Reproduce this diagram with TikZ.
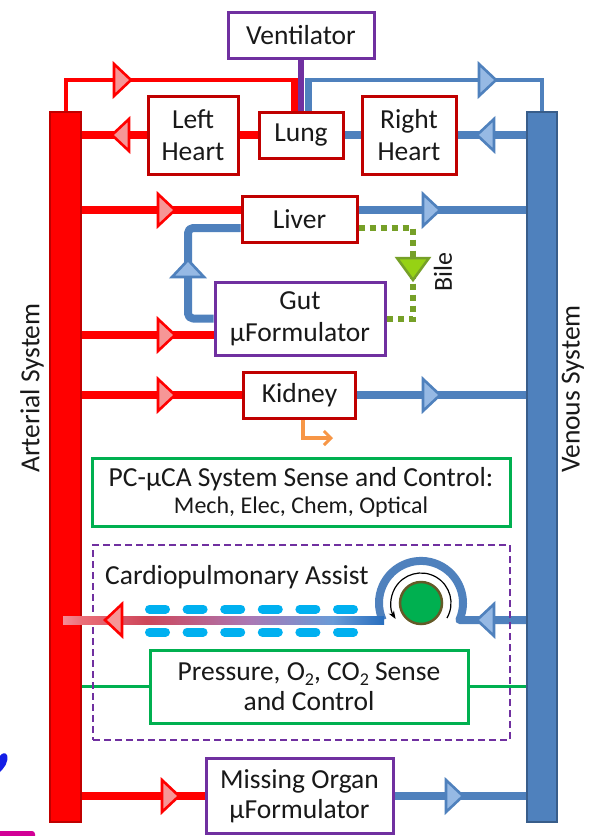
\documentclass[tikz,border=0pt]{standalone}
\usepackage{fontspec}
\setmainfont{Carlito}
\usetikzlibrary{arrows.meta}
\definecolor{artred}{RGB}{255,0,0}
\definecolor{boxred}{RGB}{192,0,0}
\definecolor{venblue}{RGB}{79,129,189}
\definecolor{venedge}{RGB}{56,93,138}
\definecolor{pinkfill}{RGB}{246,150,150}
\definecolor{lbluefill}{RGB}{150,185,228}
\definecolor{purp}{RGB}{112,48,160}
\definecolor{grn}{RGB}{0,176,80}
\definecolor{bilegrn}{RGB}{118,160,40}
\definecolor{bilefill}{RGB}{150,210,20}
\definecolor{orng}{RGB}{247,150,70}
\definecolor{cyandash}{RGB}{0,176,240}
\definecolor{pumpedge}{RGB}{100,90,40}
\definecolor{txt}{RGB}{25,25,25}
\definecolor{blobblue}{RGB}{20,30,230}
\definecolor{magen}{RGB}{210,0,150}
\definecolor{ga}{RGB}{245,140,150}
\definecolor{gb}{RGB}{235,110,120}
\definecolor{gc}{RGB}{205,70,90}
\definecolor{gd}{RGB}{170,120,180}
\definecolor{ge}{RGB}{105,155,215}
\definecolor{gf}{RGB}{40,110,190}
\pgfdeclarehorizontalshading{cpagrad}{100bp}{color(0bp)=(ga); color(25bp)=(ga); color(28bp)=(gb); color(38bp)=(gc); color(54bp)=(gd); color(67bp)=(ge); color(75bp)=(gf); color(100bp)=(gf)}
\pgfdeclarelayer{bg}
\pgfsetlayers{bg,main}
\newcommand\mytri[5]{%
  \draw[line width=2.6pt, draw=#4, fill=#5, shift={(#1,#2)}, rotate=#3] (0,0) -- (-17,-16) -- (-17,16) -- cycle;}
\newcommand\mysub[1]{\raisebox{-5pt}{\fontsize{18}{18}\selectfont #1}}
\begin{document}
\begin{tikzpicture}[x=1pt,y=-1pt,
  mybox/.style={draw, line width=3pt, fill=white, inner sep=0pt, align=center, text=txt, font=\fontsize{27.5}{32}\selectfont},
  redbox/.style={mybox, draw=boxred},
  purbox/.style={mybox, draw=purp},
  grnbox/.style={mybox, draw=grn},
  artline/.style={draw=artred, line width=8pt},
  venline/.style={draw=venblue, line width=8pt, line join=round},
  txtlbl/.style={text=txt, font=\fontsize{27.5}{32}\selectfont, inner sep=0pt},
]
\useasboundingbox (0,0) rectangle (597,836);

% bars
\node[draw=boxred, fill=artred, line width=1.5pt, minimum width=31pt, minimum height=710pt, inner sep=0pt] (art) at (65.5,467) {};
\node[draw=venedge, fill=venblue, line width=1.5pt, minimum width=30pt, minimum height=710pt, inner sep=0pt] (ven) at (542,467) {};

% boxes
\node[purbox, minimum width=146pt, minimum height=46pt] (vent) at (301,35) {Ventilator};
\node[redbox, minimum width=90pt, minimum height=78pt] (lheart) at (193,135) {Left\\Heart};
\node[redbox, minimum width=84pt, minimum height=46pt] (lung) at (301,135) {Lung};
\node[redbox, minimum width=94pt, minimum height=78pt] (rheart) at (409,135) {Right\\Heart};
\node[redbox, minimum width=115pt, minimum height=46pt] (liver) at (299.5,219) {Liver};
\node[purbox, minimum width=170pt, minimum height=73pt] (gut) at (300,318.5) {Gut\\μFormulator};
\node[redbox, minimum width=112pt, minimum height=46pt] (kidney) at (299.5,395) {Kidney};
\node[grnbox, minimum width=418pt, minimum height=68pt, font=\fontsize{27.5}{27}\selectfont] (pc) at (301,492) {PC-μCA System Sense and Control:\\{\fontsize{24}{27}\selectfont Mech, Elec, Chem, Optical}};
\node[draw=purp, line width=2pt, dash pattern=on 7pt off 4pt, minimum width=417pt, minimum height=195pt, inner sep=0pt] (cpa) at (301.5,642.5) {};
\node[grnbox, minimum width=318pt, minimum height=73pt, font=\fontsize{27.5}{30}\selectfont] (press) at (309,686.5) {Pressure, O\mysub{2}, CO\mysub{2} Sense\\and Control};
\node[purbox, minimum width=187pt, minimum height=75pt, font=\fontsize{27.5}{30}\selectfont] (missing) at (299.5,796) {Missing Organ\\μFormulator};

% labels
\node[txtlbl, anchor=base west] (cpalabel) at (105,584) {Cardiopulmonary Assist};
\node[txtlbl, rotate=90] (artlabel) at (32,388) {Arterial System};
\node[txtlbl, rotate=90] (venlabel) at (573,389) {Venous System};
\node[txtlbl, rotate=90, font=\fontsize{26}{30}\selectfont] (bile) at (443,272) {Bile};

% pump
\node[circle, draw=pumpedge, fill=grn, line width=2.5pt, minimum size=42pt, inner sep=0pt] (pump) at (421,603) {};

% coordinates
\coordinate (rtop) at (294.5,80);
\coordinate (btop) at (308.5,80);
\coordinate (yA) at (0,210);
\coordinate (yB) at (0,228);
\coordinate (yC) at (0,335);
\coordinate (yP) at (0,620);
\coordinate (gutcornerA) at (188,318.5);
\coordinate (gutcornerB) at (188,228);
\coordinate (bileA) at (413,228);
\coordinate (bileB) at (413,318.5);
\coordinate (orangeend) at (333,438);
\coordinate (arcstart) at (459.37,620);

\begin{pgfonlayer}{bg}
\fill[white] (0,0) rectangle (597,836);
% top loop
\draw[artred, line width=4pt] (art.north) |- (rtop);
\draw[artred, line width=7pt] ([yshift=2pt]rtop) -- (rtop |- lung.north);
\draw[venblue, line width=4pt] (ven.north) |- (btop);
\draw[venblue, line width=7pt] ([yshift=2pt]btop) -- (btop |- lung.north);
\draw[purp, line width=6pt] (vent.south) -- (lung.north);
% heart row
\draw[artline] (lheart.west) -- (lheart.west -| art.east);
\draw[artline] (lung.west) -- (lheart.east);
\draw[venline] (lung.east) -- (rheart.west);
\draw[venline] (rheart.east) -- (rheart.east -| ven.west);
% liver
\draw[artline] (art.east |- yA) -- (liver.west |- yA);
\draw[venline] (liver.east |- yA) -- (ven.west |- yA);
\draw[venline, rounded corners=5pt] (gut.west) -- (gutcornerA) -- (gutcornerB) -- (liver.west |- yB);
\draw[bilegrn, line width=6pt, dash pattern=on 6pt off 5pt] (liver.east |- yB) -- (bileA) -- (bileB) -- (gut.east);
% gut
\draw[artline] (art.east |- yC) -- (gut.west |- yC);
% kidney
\draw[artline] (kidney.west) -- (kidney.west -| art.east);
\draw[venline] (kidney.east) -- (kidney.east -| ven.west);
\draw[orng, line width=4pt, -{Straight Barb[length=7pt,width=14pt,line width=3pt]}] ([xshift=3.5pt]kidney.south) |- (orangeend);
% pressure
\draw[grn, line width=3pt] (press.west) -- (press.west -| art.east);
\draw[grn, line width=3pt] (press.east) -- (press.east -| ven.west);
% missing
\draw[artline] (missing.west) -- (missing.west -| art.east);
\draw[venline] (missing.east) -- (missing.east -| ven.west);
% pump blue
\draw[venline] (ven.west |- yP) -- (arcstart) arc[start angle=24, end angle=-204, radius=42];
\end{pgfonlayer}

% gradient line
\shade[shading=cpagrad] (63,616) rectangle (384,624);
% cyan dashes
\foreach \s in {145,182.6,220.2,257.8,295.4,333} {
  \draw[cyandash, line width=9pt, line cap=round] (\s+4.5,609) -- (\s+20.5,609);
  \draw[cyandash, line width=9pt, line cap=round] (\s+4.5,632) -- (\s+20.5,632);
}
% rotation arrow
\draw[black, line width=1.2pt, -{Stealth[length=8pt,width=6pt]}] (pump) ++(30:30) arc[start angle=30, end angle=-212, radius=30];

% arrowheads
\mytri{131}{80}{0}{artred}{pinkfill}
\mytri{496}{80}{0}{venblue}{lbluefill}
\mytri{112}{135}{180}{artred}{pinkfill}
\mytri{477}{135}{180}{venblue}{lbluefill}
\mytri{175}{210}{0}{artred}{pinkfill}
\mytri{440}{210}{0}{venblue}{lbluefill}
\mytri{188}{260}{90}{venblue}{lbluefill}
\mytri{175}{335}{0}{artred}{pinkfill}
\mytri{175}{395}{0}{artred}{pinkfill}
\mytri{440}{395}{0}{venblue}{lbluefill}
\mytri{105}{620}{180}{artred}{pinkfill}
\mytri{477}{620}{180}{venblue}{lbluefill}
\mytri{179}{796}{0}{artred}{pinkfill}
\mytri{463}{796}{0}{venblue}{lbluefill}
\draw[bilegrn, fill=bilefill, line width=2.5pt] (413,280) -- (397,258) -- (429,258) -- cycle;

% edge fragments
\fill[blobblue] (7,755) .. controls (9,762) and (4,768) .. (0,772) -- (0,756) .. controls (2,753) and (5,752) .. (7,755);
\fill[magen, rounded corners=3pt] (-5,831) rectangle (35,842);
\end{tikzpicture}
\end{document}
